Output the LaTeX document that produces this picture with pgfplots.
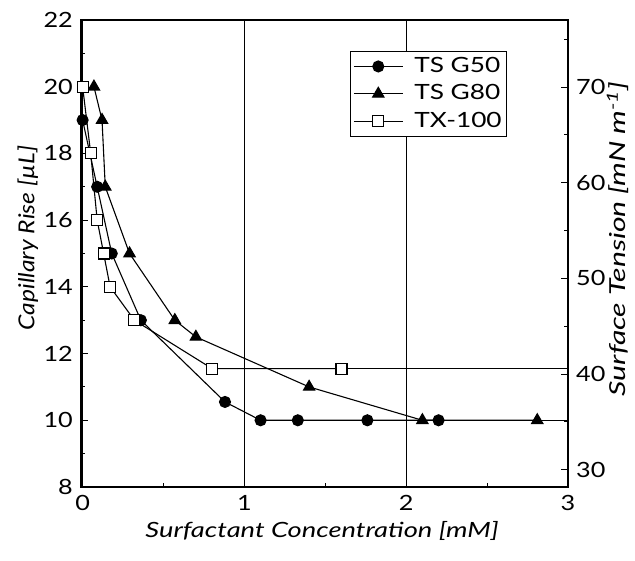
\documentclass[border=0pt]{standalone}
\usepackage{fontspec}
\setmainfont{Lato}[FakeStretch=1.2]
\newfontfamily\xlabfont{Lato}[FakeStretch=1.3]
\newfontfamily\legfont{Lato}[FakeStretch=1.25]
\newfontfamily\ylabfont{Lato}[FakeStretch=1.12]
\newfontfamily\rlabfont{Lato}[FakeStretch=1.37]
\usepackage{pgfplots}
\pgfplotsset{compat=1.18}
\usetikzlibrary{calc}
\begin{document}
\fontsize{21}{25}\selectfont
\begin{tikzpicture}
\pgfplotsset{
  every axis/.append style={
    scale only axis, width=487pt, height=467pt,
    /pgf/number format/assume math mode=true,
    tick label style={font=\fontsize{21}{25}\selectfont},
    axis line style={line width=1.5pt},
    major tick length=7pt, minor tick length=4pt,
    tick style={black, line width=0.9pt},
  },
  mylegend/.style={legend image code/.code={
    \draw[##1] (0cm,0cm) -- (1.72cm,0cm);
    \draw[##1] plot coordinates {(0.86cm,0cm)};
  }},
}
\begin{axis}[
  xmin=-0.01, xmax=3, ymin=8, ymax=22,
  xtick={0,1,2,3}, minor xtick={0.5,1.5,2.5},
  ytick={8,10,...,22}, minor ytick={9,11,...,21},
  ytick pos=left, xtick pos=bottom,
  xmajorgrids, major grid style={black, line width=0.9pt},
  xlabel={\xlabfont\itshape Surfactant Concentration [mM]},
  ylabel={\ylabfont\fontsize{22}{26}\selectfont\itshape Capillary Rise [µL]},
  every axis x label/.style={at={(axis description cs:0.495,-0.094)}, anchor=center},
  every axis y label/.style={at={(axis description cs:-0.109,0.533)}, anchor=center, rotate=90},
  yticklabel style={xshift=-1pt},
  xticklabel style={yshift=-1pt},
  legend style={at={(0.552,0.934)}, anchor=north west, draw=black, line width=0.9pt,
    font=\legfont\fontsize{21}{24}\selectfont, row sep=5pt, inner xsep=3pt, inner ysep=4pt,
    nodes={inner sep=2pt},
    /tikz/every odd column/.append style={column sep=9pt}},
  legend cell align=left,
]
\addplot[black, line width=1.1pt, mark=*, mark size=5.5pt, mark options={fill=black, solid}, mylegend] coordinates {
 (0.0,19) (0.09,17) (0.18,15) (0.36,13) (0.88,10.55) (1.10,10) (1.33,10) (1.76,10) (2.2,10)};
\addlegendentry{TS G50}
\addplot[black, line width=1.1pt, mark=triangle*, mark size=6.5pt, mark options={fill=black, solid}, mylegend] coordinates {
 (0.07,20) (0.12,19) (0.14,17) (0.29,15) (0.57,13) (0.70,12.5) (1.40,11.0) (2.1,10) (2.81,10)};
\addlegendentry{TS G80}
\addplot[black, line width=1.1pt, mark=square*, mark size=5.5pt, mark options={fill=white, solid}, mylegend] coordinates {
 (0.0,20) (0.05,18) (0.09,16) (0.13,15) (0.17,14) (0.32,13) (0.80,11.55) (1.6,11.55)};
\addlegendentry{TX-100}
\addplot[black, line width=1.1pt, forget plot] coordinates {(1.6,11.55) (3,11.55)};
\addplot[black, line width=1.1pt, forget plot] coordinates {(2.2,10) (3,10)};
\end{axis}
\begin{axis}[
  xmin=-0.01, xmax=3, ymin=28.2, ymax=77,
  axis x line=none, axis y line*=right,
  ytick={30,40,...,70}, minor ytick={35,45,...,75},
  yticklabel style={xshift=1pt},
  ylabel={\rlabfont\fontsize{22}{26}\selectfont\itshape Surface Tension [mN m\textsuperscript{-1}]},
  every axis y label/.style={at={(axis description cs:1.102,0.531)}, anchor=center, rotate=90},
]
\end{axis}
\pgfresetboundingbox
\path[use as bounding box] ($(current axis.south west)+(-81pt,-73pt)$) rectangle ($(current axis.north east)+(67pt,20pt)$);
\end{tikzpicture}
\end{document}
